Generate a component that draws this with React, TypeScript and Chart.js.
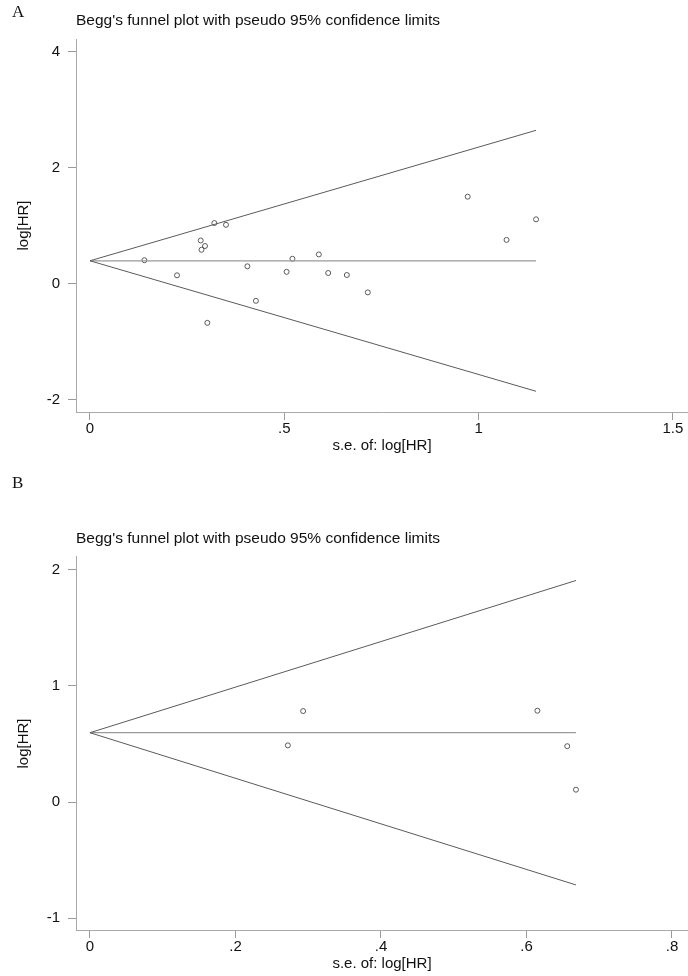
import React, { useEffect, useRef } from "react";
import { Chart, registerables } from "chart.js";

Chart.register(...registerables);

// ---------- Panel A data ----------
const seA = [0.14, 0.224, 0.285, 0.287, 0.296, 0.32, 0.35, 0.302, 0.405, 0.427, 0.506, 0.521, 0.589, 0.613, 0.661, 0.715, 0.972, 1.072, 1.148];
const logHrA = [0.41, 0.15, 0.75, 0.59, 0.655, 1.05, 1.02, -0.67, 0.305, -0.29, 0.21, 0.435, 0.51, 0.19, 0.155, -0.145, 1.505, 0.76, 1.115];
const pooledA = 0.4;
const maxSeA = 1.148;
const upperEndA = 2.65;
const lowerEndA = -1.85;
const xTicksA = [0, 0.5, 1, 1.5];
const xLabelsA = ["0", ".5", "1", "1.5"];
const yTicksA = [-2, 0, 2, 4];
const yLabelsA = ["-2", "0", "2", "4"];

// ---------- Panel B data ----------
const seB = [0.272, 0.293, 0.615, 0.656, 0.668];
const logHrB = [0.487, 0.782, 0.785, 0.48, 0.106];
const pooledB = 0.596;
const maxSeB = 0.668;
const upperEndB = 1.905;
const lowerEndB = -0.713;
const xTicksB = [0, 0.2, 0.4, 0.6, 0.8];
const xLabelsB = ["0", ".2", ".4", ".6", ".8"];
const yTicksB = [-1, 0, 1, 2];
const yLabelsB = ["-1", "0", "1", "2"];

const TITLE = "Begg's funnel plot with pseudo 95% confidence limits";
const X_TITLE = "s.e. of: log[HR]";
const Y_TITLE = "log[HR]";

const SANS = 'Arial, "Liberation Sans", sans-serif';

type FunnelProps = {
  se: number[];
  lhr: number[];
  pooled: number;
  maxSe: number;
  upper: number;
  lower: number;
  xTicks: number[];
  xLabels: string[];
  yTicks: number[];
  yLabels: string[];
  xMin: number;
  xMax: number;
  yMin: number;
  yMax: number;
  top: number;
  height: number;
  titlePadTop: number;
  titlePadBottom: number;
  xScaleHeight: number;
  xTitlePadBottom: number;
};

function Funnel(p: FunnelProps) {
  const ref = useRef<HTMLCanvasElement | null>(null);
  useEffect(() => {
    if (!ref.current) return;
    const axisCommon = {
      grid: {
        display: true,
        drawOnChartArea: false,
        drawTicks: true,
        tickLength: 8,
        color: "#9a9a9a",
        lineWidth: 1,
      },
      border: { display: true, color: "#a9a9a9", width: 1 },
    };
    const chart = new Chart(ref.current, {
      type: "scatter",
      data: {
        datasets: [
          {
            data: [
              { x: 0, y: p.pooled },
              { x: p.maxSe, y: p.upper },
            ],
            showLine: true,
            borderColor: "#5a5a5a",
            borderWidth: 1,
            pointRadius: 0,
          },
          {
            data: [
              { x: 0, y: p.pooled },
              { x: p.maxSe, y: p.lower },
            ],
            showLine: true,
            borderColor: "#5a5a5a",
            borderWidth: 1,
            pointRadius: 0,
          },
          {
            data: [
              { x: 0, y: p.pooled },
              { x: p.maxSe, y: p.pooled },
            ],
            showLine: true,
            borderColor: "#9a9a9a",
            borderWidth: 1.2,
            pointRadius: 0,
          },
          {
            data: p.se.map((s, i) => ({ x: s, y: p.lhr[i] })),
            showLine: false,
            pointStyle: "circle",
            pointRadius: 2.5,
            pointBorderWidth: 0.9,
            pointBorderColor: "#4a4a4a",
            pointBackgroundColor: "rgba(0,0,0,0)",
          },
        ],
      },
      options: {
        animation: false,
        responsive: false,
        devicePixelRatio: 1,
        layout: { padding: 0, autoPadding: false },
        plugins: {
          legend: { display: false },
          tooltip: { enabled: false },
          title: {
            display: true,
            text: TITLE,
            align: "start",
            fullSize: false,
            color: "#111",
            font: { family: SANS, size: 15.5, weight: "normal", lineHeight: 1.2 },
            padding: { top: p.titlePadTop, bottom: p.titlePadBottom },
          },
        },
        scales: {
          x: {
            type: "linear",
            min: p.xMin,
            max: p.xMax,
            ...axisCommon,
            afterBuildTicks: (axis: any) => {
              axis.ticks = p.xTicks.map((v) => ({ value: v }));
            },
            afterFit: (scale: any) => {
              scale.height = p.xScaleHeight;
              scale.paddingLeft = 0;
              scale.paddingRight = 0;
            },
            ticks: {
              color: "#111",
              padding: 1,
              maxRotation: 0,
              font: { family: SANS, size: 15, lineHeight: 1 },
              callback: (_v: any, i: number) => p.xLabels[i],
            },
            title: {
              display: true,
              text: X_TITLE,
              color: "#111",
              font: { family: SANS, size: 15, lineHeight: 1.2 },
              padding: { top: 0, bottom: p.xTitlePadBottom },
            },
          },
          y: {
            type: "linear",
            min: p.yMin,
            max: p.yMax,
            ...axisCommon,
            afterBuildTicks: (axis: any) => {
              axis.ticks = p.yTicks.map((v) => ({ value: v }));
            },
            afterFit: (scale: any) => {
              scale.width = 76;
              scale.paddingTop = 0;
              scale.paddingBottom = 0;
            },
            ticks: {
              color: "#111",
              padding: 8,
              font: { family: SANS, size: 15 },
              callback: (_v: any, i: number) => p.yLabels[i],
            },
            title: {
              display: true,
              text: Y_TITLE,
              color: "#111",
              font: { family: SANS, size: 15, lineHeight: 1.2 },
              padding: { top: 14.5, bottom: 0 },
            },
          },
        },
      },
    } as any);
    return () => chart.destroy();
  }, []);
  return (
    <canvas
      ref={ref}
      width={688}
      height={p.height}
      style={{ position: "absolute", left: 0, top: p.top, width: 688, height: p.height }}
    />
  );
}

export default function App() {
  const letter: React.CSSProperties = {
    position: "absolute",
    left: 12,
    font: '17px "Times New Roman", "Liberation Serif", serif',
    lineHeight: "17px",
    color: "#111",
  };
  return (
    <div style={{ position: "absolute", left: 0, top: 0, width: 688, height: 976, background: "#fff" }}>
      <Funnel
        se={seA}
        lhr={logHrA}
        pooled={pooledA}
        maxSe={maxSeA}
        upper={upperEndA}
        lower={lowerEndA}
        xTicks={xTicksA}
        xLabels={xLabelsA}
        yTicks={yTicksA}
        yLabels={yLabelsA}
        xMin={-0.036}
        xMax={1.539}
        yMin={-2.207}
        yMax={4.224}
        top={0}
        height={470}
        titlePadTop={11.3}
        titlePadBottom={9.1}
        xScaleHeight={58}
        xTitlePadBottom={15.5}
      />
      <Funnel
        se={seB}
        lhr={logHrB}
        pooled={pooledB}
        maxSe={maxSeB}
        upper={upperEndB}
        lower={lowerEndB}
        xTicks={xTicksB}
        xLabels={xLabelsB}
        yTicks={yTicksB}
        yLabels={yLabelsB}
        xMin={-0.0192}
        xMax={0.822}
        yMin={-1.1006}
        yMax={2.107}
        top={470}
        height={506}
        titlePadTop={59.3}
        titlePadBottom={9.1}
        xScaleHeight={46}
        xTitlePadBottom={3.5}
      />
      <div style={{ ...letter, top: 3 }}>A</div>
      <div style={{ ...letter, top: 474 }}>B</div>
    </div>
  );
}
